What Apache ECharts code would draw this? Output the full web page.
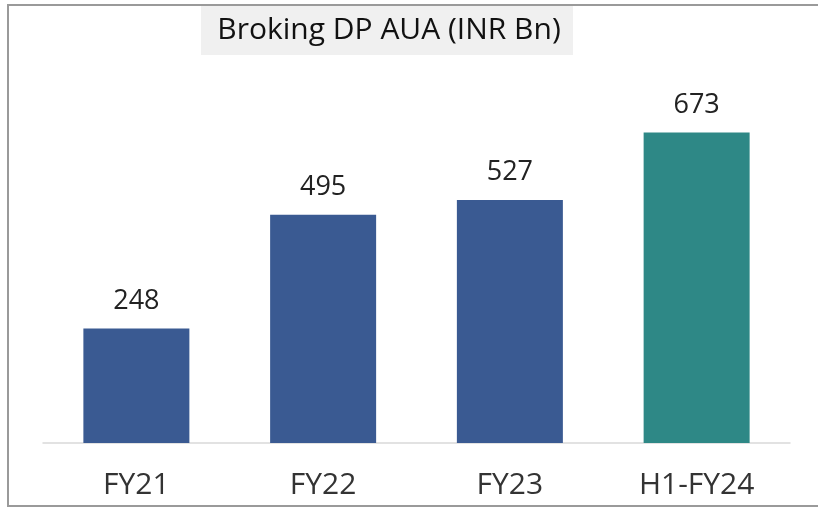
<!DOCTYPE html>
<html>
<head>
<meta charset="utf-8">
<script src="https://cdn.jsdelivr.net/npm/echarts@6/dist/echarts.min.js"></script>
<style>
  html, body { margin: 0; padding: 0; background: #fff; }
  #container { width: 818px; height: 508px; }
</style>
</head>
<body>
<div id="container"></div>
<script>
// 数据
var categories = ['FY21', 'FY22', 'FY23', 'H1-FY24']
var values = [248, 495, 527, 673]
var barColors = ['#3A5A92', '#3A5A92', '#3A5A92', '#2E8886']

var dom = document.getElementById("container")
var myChart = echarts.init(dom)
var font = '"Open Sans", "Noto Sans", sans-serif'
var narrow = '"Liberation Sans Narrow", "Open Sans", sans-serif'

var option = {
    animation: false,
    backgroundColor: '#fff',
    graphic: [
        {
            // 外框
            type: 'rect',
            shape: { x: 8, y: 5, width: 830, height: 501 },
            style: { fill: 'none', stroke: '#9a9a9a', lineWidth: 2 },
            z: 0,
        },
        {
            // 标题背景
            type: 'rect',
            shape: { x: 201, y: 6, width: 372, height: 49 },
            style: { fill: '#f0f0f0' },
            z: 1,
        },
        {
            type: 'text',
            x: 389,
            y: 30,
            style: {
                text: 'Broking DP AUA (INR Bn)',
                fill: '#111',
                font: '30px ' + font,
                align: 'center',
                verticalAlign: 'middle',
            },
            z: 2,
        },
    ],
    grid: {
        left: 43,
        right: 28,
        top: 74,
        bottom: 65,
    },
    xAxis: {
        type: 'category',
        data: categories,
        axisLine: { lineStyle: { color: '#d9d9d9', width: 1.5 } },
        axisTick: { show: false },
        axisLabel: {
            color: '#333',
            fontSize: 30,
            fontFamily: narrow,
            margin: 27,
        },
    },
    yAxis: {
        type: 'value',
        min: 0,
        max: 800,
        show: false,
        splitLine: { show: false },
    },
    series: [
        {
            type: 'bar',
            data: values.map(function (v, i) {
                return { value: v, itemStyle: { color: barColors[i] } }
            }),
            barWidth: 106,
            label: {
                show: true,
                position: 'top',
                distance: 14,
                color: '#222',
                fontSize: 27,
                fontFamily: font,
            },
        },
    ],
}

myChart.setOption(option, true)
</script>
</body>
</html>
